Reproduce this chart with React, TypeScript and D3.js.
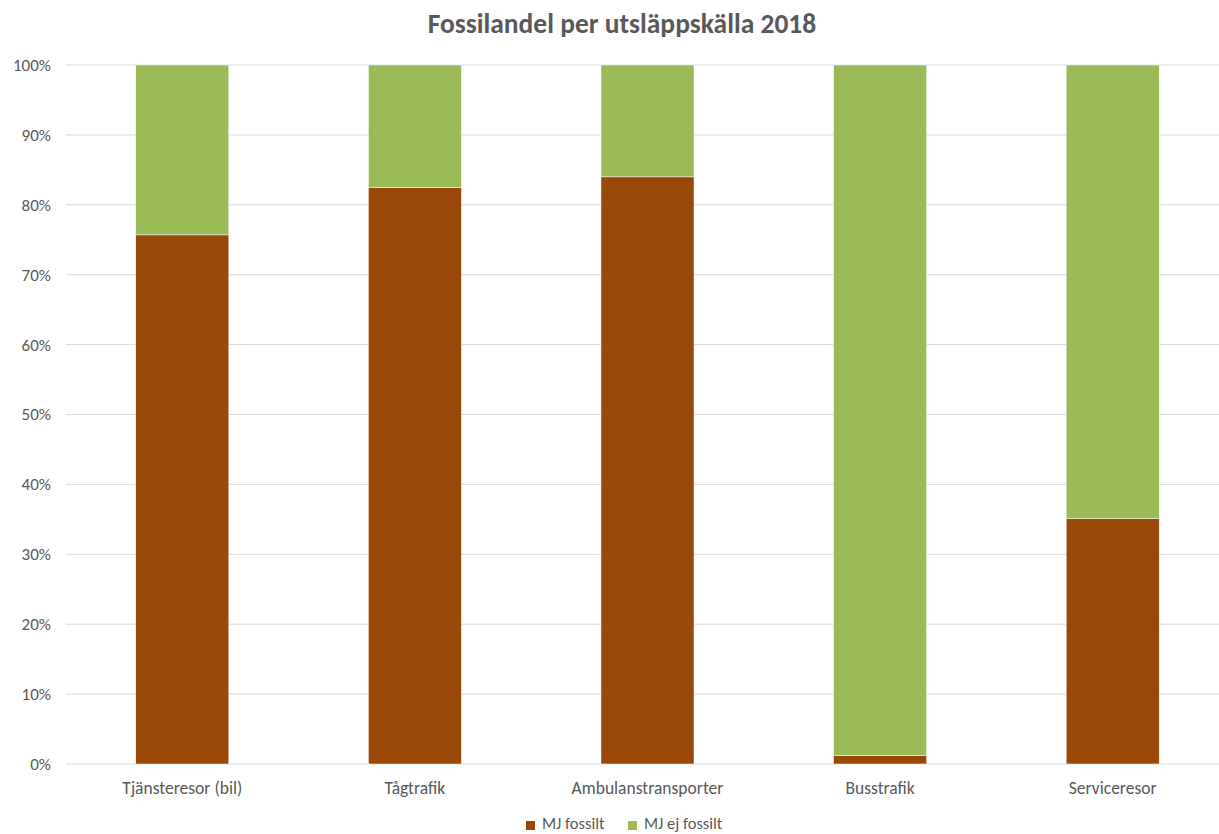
import React from "react";
import * as d3 from "d3";

const categories = ["Tjänsteresor (bil)", "Tågtrafik", "Ambulanstransporter", "Busstrafik", "Serviceresor"];
const fossil = [0.757, 0.825, 0.84, 0.012, 0.351];
const nonFossil = fossil.map((v) => 1 - v);
const seriesNames = ["MJ fossilt", "MJ ej fossilt"];
const seriesColors = ["#994807", "#9BBB59"];
const yTicks = [0, 0.1, 0.2, 0.3, 0.4, 0.5, 0.6, 0.7, 0.8, 0.9, 1.0];

const W = 1219, H = 834;
const left = 66, right = 1229, top = 65, bottom = 764;
const font = "Calibri, Carlito, 'Open Sans', 'Liberation Sans', sans-serif";

export default function App() {
  const x = d3.scaleBand<string>().domain(categories).range([left, right]).paddingInner(0.6).paddingOuter(0.3);
  const y = d3.scaleLinear().domain([0, 1]).range([bottom, top]);
  const fmt = d3.format(".0%");
  const rows = categories.map((c, i) => ({ c, f: fossil[i], n: nonFossil[i] }));
  const stack = d3.stack<any>().keys(["f", "n"])(rows);

  return (
    <svg width={W} height={H} style={{ position: "absolute", left: 0, top: 0, background: "#fff" }} fontFamily={font}>
      <text x={622} y={33} textAnchor="middle" fontSize={27.5} fontWeight="bold" fill="#595959">
        Fossilandel per utsläppskälla 2018
      </text>
      {yTicks.map((t) => (
        <g key={t}>
          <line x1={left} x2={W} y1={y(t)} y2={y(t)} stroke="#D9D9D9" strokeWidth={1} />
          <text x={51} y={y(t)} dy="0.35em" textAnchor="end" fontSize={17} fill="#595959">
            {fmt(t)}
          </text>
        </g>
      ))}
      {stack.map((s, si) => (
        <g key={si} fill={seriesColors[si]}>
          {s.map((d: any, i: number) => (
            <rect
              key={i}
              x={x(categories[i])!}
              width={x.bandwidth()}
              y={y(d[1])}
              height={y(d[0]) - y(d[1])}
              stroke="#fff"
              strokeWidth={0.5}
            />
          ))}
        </g>
      ))}
      {categories.map((c) => (
        <text key={c} x={x(c)! + x.bandwidth() / 2} y={794} textAnchor="middle" fontSize={17.5} fill="#595959">
          {c}
        </text>
      ))}
      {seriesNames.map((n, i) => {
        const lx = i === 0 ? 526 : 628;
        return (
          <g key={n}>
            <rect x={lx} y={821} width={9} height={9} fill={seriesColors[i]} />
            <text x={lx + 16} y={829} fontSize={16.5} fill="#595959">
              {n}
            </text>
          </g>
        );
      })}
    </svg>
  );
}
